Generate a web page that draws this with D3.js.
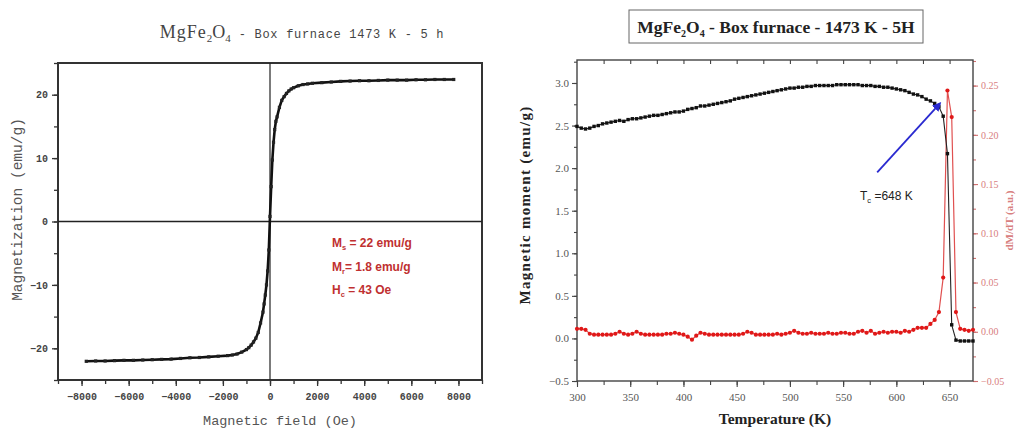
<!DOCTYPE html>
<html>
<head>
<meta charset="utf-8">
<script src="https://cdn.jsdelivr.net/npm/d3@7"></script>
<style>
  body { margin: 0; background: #fff; }
  svg { display: block; }
</style>
</head>
<body>
<svg id="fig" width="1019" height="432"></svg>
<script>
'use strict';

// left panel: hysteresis loop M(H)
var fieldOe = [-7800, -7400, -7000, -6600, -6200, -5800, -5400, -5000, -4600, -4200, -3800, -3400, -3000, -2600, -2200, -1800,
  -1600, -1400, -1200, -1000, -900, -800, -700, -600, -500, -400, -300, -250, -200, -150, -100, -50, 0,
  50, 100, 150, 200, 250, 300, 400, 500, 600, 700, 800, 900, 1000, 1200, 1400, 1600, 1800, 2200, 2600,
  3000, 3400, 3800, 4200, 4600, 5000, 5400, 5800, 6200, 6600, 7000, 7400, 7800];
var magnetization = [-22.05, -22.0, -22.0, -21.95, -21.9, -21.9, -21.85, -21.8, -21.75, -21.7, -21.6, -21.5, -21.45, -21.35, -21.25, -21.15,
  -21.05, -20.9, -20.6, -20.2, -19.9, -19.5, -19.0, -18.4, -17.5, -16.0, -14.3, -13.0, -11.6, -10.0, -7.8, -4.5, 0.8,
  5.5, 9.7, 12.5, 14.5, 15.8, 16.5, 18.0, 19.1, 19.7, 20.2, 20.6, 20.9, 21.1, 21.4, 21.6, 21.7, 21.8, 21.9, 22.0,
  22.1, 22.15, 22.2, 22.2, 22.25, 22.3, 22.3, 22.3, 22.35, 22.35, 22.4, 22.4, 22.4];
var fieldTicks = [-8000, -6000, -4000, -2000, 0, 2000, 4000, 6000, 8000];
var magTicks = [-20, -10, 0, 10, 20];

// right panel: thermomagnetic curve and its derivative
var temperature = [300, 304, 308, 312, 316, 320, 324, 328, 332, 336, 340, 344, 348, 352, 356, 360, 364, 368, 372, 376,
  380, 384, 388, 392, 396, 400, 404, 408, 412, 416, 420, 424, 428, 432, 436, 440, 444, 448, 452, 456,
  460, 464, 468, 472, 476, 480, 484, 488, 492, 496, 500, 504, 508, 512, 516, 520, 524, 528, 532, 536,
  540, 544, 548, 552, 556, 560, 564, 568, 572, 576, 580, 584, 588, 592, 596, 600, 604, 608, 612, 616,
  620, 624, 628, 632, 636, 640, 644, 648, 652, 656, 660, 664, 668, 672];
var moment = [2.49, 2.47, 2.46, 2.47, 2.49, 2.50, 2.52, 2.53, 2.54, 2.55, 2.56, 2.55, 2.57, 2.58, 2.58, 2.59, 2.60, 2.61, 2.62, 2.62,
  2.63, 2.64, 2.65, 2.66, 2.66, 2.67, 2.69, 2.70, 2.71, 2.73, 2.73, 2.74, 2.75, 2.76, 2.77, 2.78, 2.79, 2.81, 2.82, 2.83,
  2.84, 2.85, 2.86, 2.87, 2.88, 2.89, 2.90, 2.91, 2.92, 2.93, 2.94, 2.94, 2.95, 2.95, 2.96, 2.96, 2.97, 2.97, 2.97, 2.97,
  2.97, 2.98, 2.98, 2.98, 2.98, 2.98, 2.98, 2.97, 2.97, 2.97, 2.96, 2.96, 2.95, 2.95, 2.94, 2.93, 2.92, 2.91, 2.89, 2.87,
  2.86, 2.84, 2.81, 2.79, 2.76, 2.72, 2.61, 2.17, 0.16, -0.02, -0.03, -0.03, -0.03, -0.03];
var derivative = [0.003, 0.003, 0.002, -0.002, -0.003, -0.003, -0.003, -0.003, -0.003, -0.002, 0.000, -0.002, -0.003, -0.002, 0.000, -0.002, -0.003, -0.003, -0.003, -0.003,
  -0.003, -0.002, -0.002, -0.001, -0.002, -0.003, -0.005, -0.008, -0.004, -0.001, -0.002, -0.003, -0.003, -0.003, -0.003, -0.003, -0.003, -0.003, -0.003, -0.002,
  0.000, -0.001, -0.003, -0.003, -0.003, -0.003, -0.003, -0.002, -0.003, -0.002, -0.001, 0.001, -0.001, -0.002, -0.002, -0.001, -0.002, -0.002, -0.002, -0.001,
  -0.002, -0.002, -0.001, -0.001, -0.002, -0.002, 0.000, 0.001, -0.001, 0.001, -0.002, -0.001, 0.000, -0.001, 0.000, 0.000, -0.001, 0.001, 0.000, 0.002,
  0.004, 0.004, 0.004, 0.008, 0.012, 0.020, 0.055, 0.245, 0.218, 0.020, 0.003, 0.002, 0.001, 0.002];
var tempTicks = [300, 350, 400, 450, 500, 550, 600, 650];
var momentTicks = [-0.5, 0.0, 0.5, 1.0, 1.5, 2.0, 2.5, 3.0];
var derivTicks = [-0.05, 0.00, 0.05, 0.10, 0.15, 0.20, 0.25];

// Curie point arrow, in data units (temperature, moment)
var arrowFrom = [582, 1.95];
var arrowTo = [641, 2.76];

var svg = d3.select('#fig');
var monoFont = '"Liberation Mono", "DejaVu Sans Mono", monospace';
var serifFont = '"Liberation Serif", "DejaVu Serif", serif';

/* ---------- left panel ---------- */
var L = { left: 58, right: 482, top: 63, bottom: 380 };
var xH = d3.scaleLinear().domain([-9000, 9000]).range([L.left, L.right]);
var yM = d3.scaleLinear().domain([-25, 25]).range([L.bottom, L.top]);
var left = svg.append('g');

left.append('g')
  .attr('transform', 'translate(0,' + L.bottom + ')')
  .call(d3.axisBottom(xH).tickValues(d3.range(-9000, 9001, 1000)).tickSize(4).tickFormat(''));
left.append('g')
  .attr('transform', 'translate(0,' + L.bottom + ')')
  .call(d3.axisBottom(xH).tickValues(fieldTicks).tickSize(6).tickPadding(7).tickFormat(d3.format('d')));
left.append('g')
  .attr('transform', 'translate(' + L.left + ',0)')
  .call(d3.axisLeft(yM).tickValues(d3.range(-25, 26, 5)).tickSize(4).tickFormat(''));
left.append('g')
  .attr('transform', 'translate(' + L.left + ',0)')
  .call(d3.axisLeft(yM).tickValues(magTicks).tickSize(6).tickPadding(4).tickFormat(d3.format('d')));
left.selectAll('.domain').remove();
left.selectAll('.tick line').attr('stroke', '#333').attr('stroke-width', 1.3);
left.selectAll('.tick text').attr('font-family', monoFont).attr('font-size', 10)
  .attr('font-weight', 'bold').attr('fill', '#444');

left.append('rect')
  .attr('x', L.left).attr('y', L.top)
  .attr('width', L.right - L.left).attr('height', L.bottom - L.top)
  .attr('fill', 'none').attr('stroke', '#333').attr('stroke-width', 2);
left.append('line')
  .attr('x1', L.left).attr('x2', L.right).attr('y1', yM(0)).attr('y2', yM(0))
  .attr('stroke', '#222').attr('stroke-width', 1.4);
left.append('line')
  .attr('x1', xH(0)).attr('x2', xH(0)).attr('y1', L.top).attr('y2', L.bottom)
  .attr('stroke', '#222').attr('stroke-width', 1.2);

var hyst = fieldOe.map(function (h, i) { return [h, magnetization[i]]; });
left.append('path')
  .datum(hyst)
  .attr('fill', 'none').attr('stroke', '#111').attr('stroke-width', 2.6)
  .attr('d', d3.line().x(function (d) { return xH(d[0]); }).y(function (d) { return yM(d[1]); }));
left.selectAll('rect.pt').data(hyst).enter().append('rect')
  .attr('class', 'pt')
  .attr('x', function (d) { return xH(d[0]) - 1.6; })
  .attr('y', function (d) { return yM(d[1]) - 1.6; })
  .attr('width', 3.2).attr('height', 3.2).attr('fill', '#222');

var title1 = left.append('text')
  .attr('x', 302).attr('y', 38).attr('text-anchor', 'middle')
  .attr('font-family', serifFont).attr('fill', '#444');
title1.append('tspan').attr('font-size', 18).attr('letter-spacing', 1).text('MgFe');
title1.append('tspan').attr('font-size', 11).attr('dy', 4).text('2');
title1.append('tspan').attr('font-size', 18).attr('dy', -4).text('O');
title1.append('tspan').attr('font-size', 11).attr('dy', 4).text('4');
title1.append('tspan').attr('font-family', monoFont).attr('font-size', 12).attr('dy', -4)
  .attr('letter-spacing', 0.7)
  .text(' - Box furnace 1473 K - 5 h');

left.append('text')
  .attr('x', 280).attr('y', 425).attr('text-anchor', 'middle')
  .attr('font-family', monoFont).attr('font-size', 13.5).attr('fill', '#555')
  .text('Magnetic field (Oe)');
left.append('text')
  .attr('transform', 'translate(22,' + (yM(0) - 12) + ') rotate(-90)')
  .attr('text-anchor', 'middle')
  .attr('font-family', monoFont).attr('font-size', 14.5).attr('fill', '#555')
  .text('Magnetization (emu/g)');

var notes = [['M', 's', ' = 22 emu/g'], ['M', 'r', '= 1.8 emu/g'], ['H', 'c', ' = 43 Oe']];
notes.forEach(function (n, i) {
  var t = left.append('text')
    .attr('x', 332).attr('y', 247 + i * 23.5)
    .attr('font-family', '"Liberation Sans Narrow", "Liberation Sans", sans-serif')
    .attr('font-size', 12).attr('font-weight', 'bold').attr('fill', '#c03030');
  t.append('tspan').text(n[0]);
  t.append('tspan').attr('font-size', 7.5).attr('dy', 3).text(n[1]);
  t.append('tspan').attr('dy', -3).text(n[2]);
});

/* ---------- right panel ---------- */
var R = { left: 577, right: 973, top: 60, bottom: 381 };
var xT = d3.scaleLinear().domain([300, 672]).range([R.left, R.right]);
var yL = d3.scaleLinear().domain([-0.5, 3.27]).range([R.bottom, R.top]);
var yR = d3.scaleLinear().domain([-0.05, 0.276]).range([R.bottom, R.top]);
var right = svg.append('g');

right.append('g')
  .attr('transform', 'translate(0,' + R.bottom + ')')
  .call(d3.axisBottom(xT).tickValues(d3.range(300, 673, 25)).tickSize(4).tickFormat(''));
right.append('g')
  .attr('transform', 'translate(0,' + R.bottom + ')')
  .call(d3.axisBottom(xT).tickValues(tempTicks).tickSize(6).tickPadding(6).tickFormat(d3.format('d')));
right.append('g')
  .attr('transform', 'translate(0,' + R.top + ')')
  .call(d3.axisBottom(xT).tickValues(d3.range(325, 673, 25)).tickSize(4).tickFormat(''));
right.append('g')
  .attr('transform', 'translate(' + R.left + ',0)')
  .call(d3.axisLeft(yL).tickValues(d3.range(-0.5, 3.26, 0.25)).tickSize(3).tickFormat(''));
right.append('g')
  .attr('transform', 'translate(' + R.left + ',0)')
  .call(d3.axisLeft(yL).tickValues(momentTicks).tickSize(5).tickPadding(3).tickFormat(d3.format('.1f')));
right.selectAll('.domain').remove();
right.selectAll('.tick line').attr('stroke', '#444').attr('stroke-width', 1.1);
right.selectAll('.tick text').attr('font-family', serifFont).attr('font-size', 11).attr('fill', '#555');

var redAxis = right.append('g')
  .attr('transform', 'translate(' + R.right + ',0)');
redAxis.append('g')
  .call(d3.axisRight(yR).tickValues(d3.range(-0.05, 0.276, 0.025)).tickSize(3).tickFormat(''));
redAxis.append('g')
  .call(d3.axisRight(yR).tickValues(derivTicks).tickSize(5).tickPadding(3).tickFormat(d3.format('.2f')));
redAxis.selectAll('.domain').remove();
redAxis.selectAll('.tick line').attr('stroke', '#d07070').attr('stroke-width', 1.1);
redAxis.selectAll('.tick text').attr('font-family', serifFont).attr('font-size', 10).attr('fill', '#d88080');

right.append('rect')
  .attr('x', R.left).attr('y', R.top)
  .attr('width', R.right - R.left).attr('height', R.bottom - R.top)
  .attr('fill', 'none').attr('stroke', '#444').attr('stroke-width', 1.4);

var blackPts = temperature.map(function (t, i) { return [t, moment[i]]; });
var redPts = temperature.map(function (t, i) { return [t, derivative[i]]; });

right.append('path')
  .datum(redPts)
  .attr('fill', 'none').attr('stroke', '#e05050').attr('stroke-width', 1.2)
  .attr('d', d3.line().x(function (d) { return xT(d[0]); }).y(function (d) { return yR(d[1]); }));
right.append('path')
  .datum(blackPts)
  .attr('fill', 'none').attr('stroke', '#222').attr('stroke-width', 1.1)
  .attr('d', d3.line().x(function (d) { return xT(d[0]); }).y(function (d) { return yL(d[1]); }));

right.selectAll('circle.red').data(redPts).enter().append('circle')
  .attr('class', 'red')
  .attr('cx', function (d) { return xT(d[0]); })
  .attr('cy', function (d) { return yR(d[1]); })
  .attr('r', 2.1).attr('fill', '#e01818');
right.selectAll('rect.blk').data(blackPts).enter().append('rect')
  .attr('class', 'blk')
  .attr('x', function (d) { return xT(d[0]) - 1.7; })
  .attr('y', function (d) { return yL(d[1]) - 1.7; })
  .attr('width', 3.4).attr('height', 3.4).attr('fill', '#111');

// arrow to the Curie point
right.append('defs').append('marker')
  .attr('id', 'head').attr('viewBox', '0 0 10 10')
  .attr('refX', 8).attr('refY', 5)
  .attr('markerWidth', 5).attr('markerHeight', 5)
  .attr('orient', 'auto')
  .append('path').attr('d', 'M0,0 L10,5 L0,10 z').attr('fill', '#2a2ad0');
right.append('line')
  .attr('x1', xT(arrowFrom[0])).attr('y1', yL(arrowFrom[1]))
  .attr('x2', xT(arrowTo[0])).attr('y2', yL(arrowTo[1]))
  .attr('stroke', '#2a2ad0').attr('stroke-width', 1.8)
  .attr('marker-end', 'url(#head)');

var tc = right.append('text')
  .attr('x', 860).attr('y', 200)
  .attr('font-family', '"Liberation Sans", Arial, sans-serif')
  .attr('font-size', 12).attr('fill', '#222');
tc.append('tspan').text('T');
tc.append('tspan').attr('font-size', 7.5).attr('dy', 3).text('c');
tc.append('tspan').attr('dy', -3).text(' =648 K');

// boxed title
right.append('rect')
  .attr('x', 629).attr('y', 10).attr('width', 294).attr('height', 33)
  .attr('fill', 'none').attr('stroke', '#666').attr('stroke-width', 1);
var title2 = right.append('text')
  .attr('x', 776).attr('y', 33).attr('text-anchor', 'middle')
  .attr('font-family', serifFont).attr('font-weight', 'bold').attr('font-size', 17.5).attr('fill', '#222');
title2.append('tspan').text('MgFe');
title2.append('tspan').attr('font-size', 10).attr('dy', 4).text('2');
title2.append('tspan').attr('dy', -4).text('O');
title2.append('tspan').attr('font-size', 10).attr('dy', 4).text('4');
title2.append('tspan').attr('dy', -4).text(' - Box furnace - 1473 K - 5H');

right.append('text')
  .attr('x', 775).attr('y', 424).attr('text-anchor', 'middle')
  .attr('font-family', serifFont).attr('font-weight', 'bold').attr('font-size', 15.5).attr('fill', '#222')
  .text('Temperature (K)');
right.append('text')
  .attr('transform', 'translate(530,205) rotate(-90)')
  .attr('text-anchor', 'middle')
  .attr('font-family', serifFont).attr('font-weight', 'bold').attr('font-size', 15)
  .attr('letter-spacing', 1.3).attr('fill', '#222')
  .text('Magnetic moment (emu/g)');
right.append('text')
  .attr('transform', 'translate(1013,' + ((R.top + R.bottom) / 2) + ') rotate(-90)')
  .attr('text-anchor', 'middle')
  .attr('font-family', serifFont).attr('font-weight', 'bold').attr('font-size', 11).attr('fill', '#d88080')
  .text('dM/dT (a.u.)');
</script>
</body>
</html>
